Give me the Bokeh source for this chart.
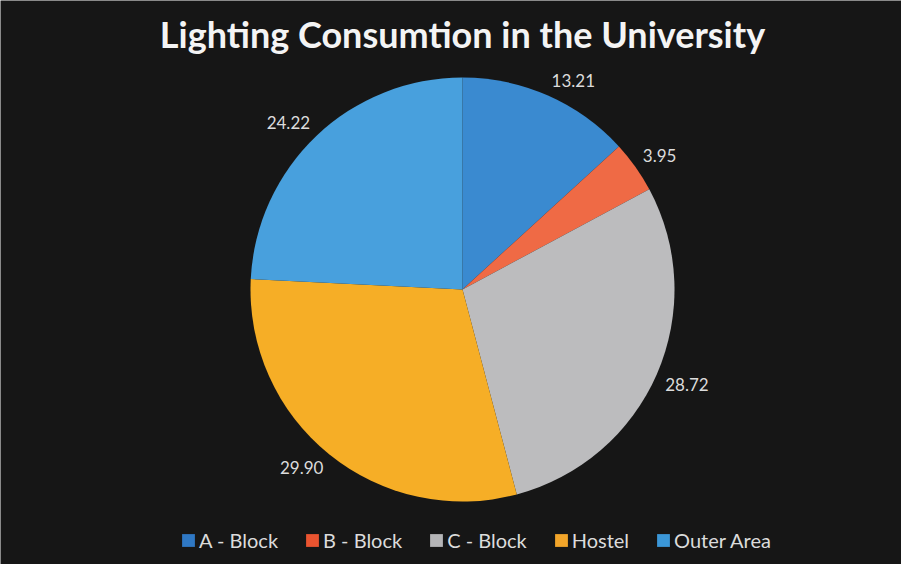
import numpy as np
from bokeh.plotting import figure
from bokeh.models import ColumnDataSource, Legend, LegendItem
from bokeh.core.properties import value
from bokeh.embed import file_html
from bokeh.resources import INLINE

categories = ["A - Block", "B - Block", "C - Block", "Hostel", "Outer Area"]
values = [13.21, 3.95, 28.72, 29.90, 24.22]
colors = ["#3a8ad0", "#ef6a45", "#bcbcbe", "#f6ae26", "#48a0dd"]
legend_colors = ["#2f78c4", "#ea5430", "#b5b5b7", "#f2a52a", "#3b97d8"]
title_text = "Lighting Consumtion in the University"

W, H = 901, 564
cx, cy = 462, 275
R = 212
LR = 221

vals = np.array(values)
frac = vals / vals.sum()
ends = np.cumsum(frac)
starts = ends - frac
# clockwise from 12 o'clock
start_ang = np.pi / 2 - starts * 2 * np.pi
end_ang = np.pi / 2 - ends * 2 * np.pi
mid = (start_ang + end_ang) / 2

src = ColumnDataSource(dict(
    cat=categories, val=values, color=colors,
    start=start_ang, end=end_ang,
))

p = figure(width=W, height=H, x_range=(0, W), y_range=(0, H),
           output_backend="svg", toolbar_location=None,
           min_border=0, background_fill_color="#161616",
           border_fill_color="#161616")
p.axis.visible = False
p.grid.visible = False
p.outline_line_color = None

p.wedge(x=cx, y=cy, radius=R, start_angle="start", end_angle="end",
        direction="clock", fill_color="color", line_color=None, source=src)

# data labels: nearest corner of the label box sits just outside the pie
for m, v in zip(mid, values):
    lx = cx + LR * np.cos(m)
    ly = cy + LR * np.sin(m)
    align = "left" if np.cos(m) >= 0 else "right"
    base = "bottom" if np.sin(m) >= 0 else "top"
    p.text(x=[lx], y=[ly], text=[f"{v:.2f}"], text_align=align,
           text_baseline=base, text_color="#dcdcdc",
           text_font=value("Lato"), text_font_size="17px")

p.text(x=[cx], y=[H - 33], text=[title_text], text_align="center",
       text_baseline="middle", text_color="#f4f4f4",
       text_font=value("Lato"), text_font_style="bold",
       text_font_size="36px")

# legend proxies
items = []
for i, c in enumerate(categories):
    r = p.quad(left=[-100], right=[-90], bottom=[-100], top=[-90],
               fill_color=legend_colors[i], line_color=None)
    items.append(LegendItem(label=c, renderers=[r]))

legend = Legend(items=items, orientation="horizontal", location=(180, 12),
                background_fill_alpha=0, border_line_color=None,
                label_text_color="#dcdcdc", label_text_font="Lato",
                label_text_font_size="20px", glyph_width=16, glyph_height=16,
                label_standoff=3, spacing=26, padding=0, margin=0)
p.add_layout(legend)

open("out.html", "w").write(file_html(p, INLINE))
